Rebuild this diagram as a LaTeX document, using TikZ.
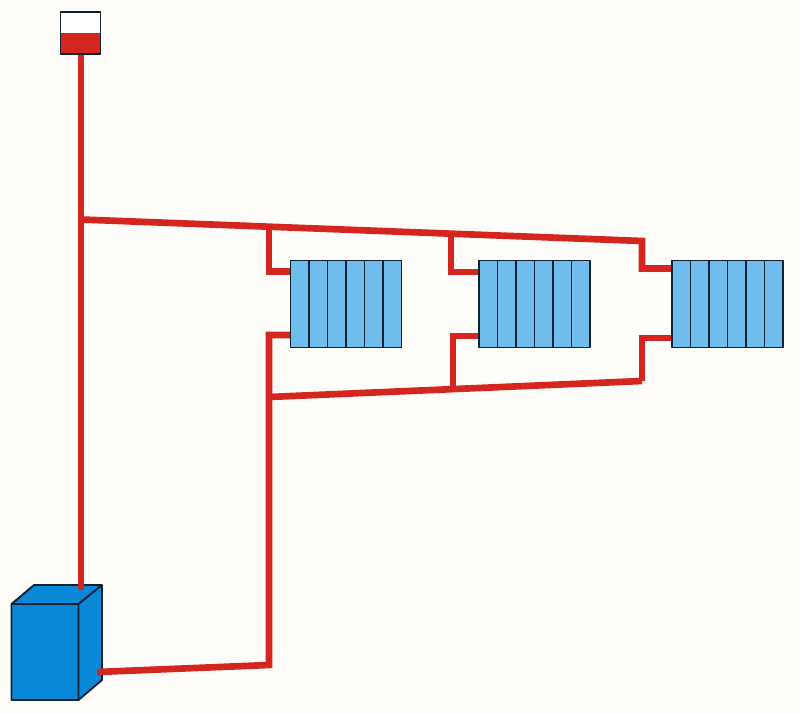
\documentclass[tikz,border=0pt]{standalone}
\usetikzlibrary{calc}
\definecolor{bgc}{HTML}{FEFDFA}
\definecolor{pipec}{HTML}{D4261F}
\definecolor{radc}{HTML}{6FBDEC}
\definecolor{boilc}{HTML}{0A88D8}
\definecolor{edgec}{HTML}{0F2230}
\tikzset{
  pipe/.style={draw=pipec,line width=5pt,line join=miter,line cap=butt},
  edgeline/.style={draw=edgec,line width=1.4pt,line join=round},
  radbox/.style={edgeline,fill=radc,rectangle,minimum width=83.25pt,minimum height=65.25pt,inner sep=0pt,outer sep=0pt,anchor=north west},
  tankbox/.style={rectangle,minimum width=30pt,minimum height=31.5pt,inner sep=0pt,outer sep=0pt,anchor=north west},
  fin/.style={edgeline}
}
\newcommand{\radfins}[1]{%
  \foreach \k in {1,...,5}
    \draw[fin] ($(#1.north west)!\k/6!(#1.north east)$) -- ($(#1.south west)!\k/6!(#1.south east)$);%
}
\begin{document}
\begin{tikzpicture}[x=0.75pt,y=-0.75pt]
\useasboundingbox (0,0) rectangle (800,713);
\fill[bgc] (0,0) rectangle (800,713);
% boiler
\coordinate (bfa) at (11.5,604);
\coordinate (bfb) at (78.5,604);
\coordinate (bfc) at (78.5,700);
\coordinate (bfd) at (11.5,700);
\coordinate (bba) at (34,585);
\coordinate (bbb) at (102,585);
\coordinate (bbc) at (102,680);
\draw[edgeline,fill=boilc] (bfa) -- (bba) -- (bbb) -- (bbc) -- (bfc) -- (bfd) -- cycle;
\draw[edgeline] (bfa) -- (bfb) -- (bfc) (bfb) -- (bbb);
% junctions
\coordinate (boilTop) at (81,590);
\coordinate (boilOut) at (97,672);
\coordinate (tankOut) at (81,50);
\coordinate (supA) at (81,219.5);
\coordinate (supB) at (269,228);
\coordinate (supC) at (451,235);
\coordinate (supD) at (642,241);
\coordinate (retA) at (269,397);
\coordinate (retB) at (453,388);
\coordinate (retC) at (642,381);
\coordinate (corner) at (269,665);
% pipes
\draw[pipe] (tankOut) -- (boilTop);
\draw[pipe] (supA) -- (supD) -- (642,268.5) -- (674,268.5);
\draw[pipe] (supB) -- (269,271.5) -- (292,271.5);
\draw[pipe] (supC) -- (451,272) -- (481,272);
\draw[pipe] (boilOut) -- (corner) -- (269,335) -- (292,335);
\draw[pipe] (retA) -- (retC);
\draw[pipe] (retC) -- (642,338) -- (674,338);
\draw[pipe] (retB) -- (453,336) -- (481,336);
% radiators
\node[radbox] (radA) at (290.5,260.5) {};
\node[radbox] (radB) at (479,260.5) {};
\node[radbox] (radC) at (672,260.5) {};
\radfins{radA}
\radfins{radB}
\radfins{radC}
% tank
\node[tankbox,fill=white] (tank) at (60.5,12) {};
\fill[pipec] (60.5,33) rectangle (100.5,54);
\draw[edgeline] (tank.north west) rectangle (tank.south east);
\end{tikzpicture}
\end{document}
